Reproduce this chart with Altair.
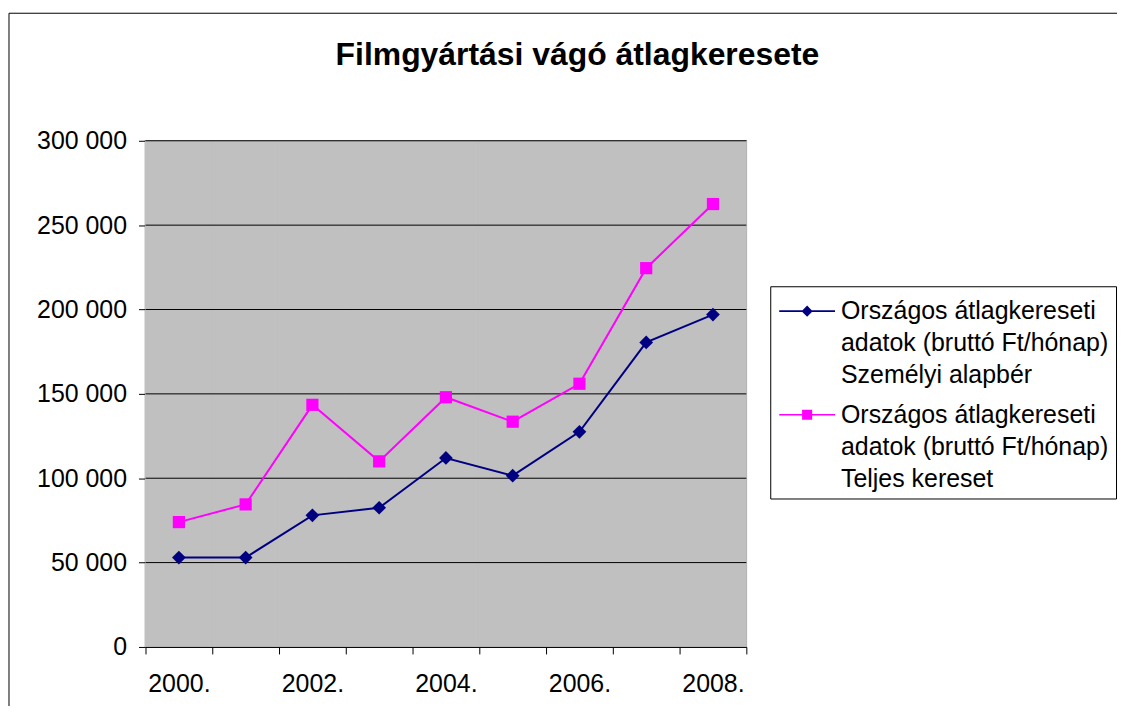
import altair as alt
import pandas as pd

years = ["2000.", "2001.", "2002.", "2003.", "2004.", "2005.", "2006.", "2007.", "2008."]
alapber = [53000, 53000, 78000, 82500, 112000, 101500, 127500, 180500, 197000]
teljes = [74000, 84500, 143500, 110000, 148000, 133500, 156000, 224500, 262500]
series_names = [
    "Országos átlagkereseti\nadatok (bruttó Ft/hónap)\nSzemélyi alapbér",
    "Országos átlagkereseti\nadatok (bruttó Ft/hónap)\nTeljes kereset",
]
colors = ["#000080", "#FF00FF"]
y_ticks = [0, 50000, 100000, 150000, 200000, 250000, 300000]
title_text = "Filmgyártási vágó átlagkeresete"

rows = []
for name, vals in zip(series_names, [alapber, teljes]):
    for yr, v in zip(years, vals):
        rows.append({"year": yr, "value": v, "series": name})
df = pd.DataFrame(rows)

FONT = "Liberation Sans"
FS = 25

# legend symbols (unit = 18px): a thin line with the series marker in the middle
line_part = "M-1.556,-0.045L1.556,-0.045L1.556,0.045L-1.556,0.045Z"
diamond_path = line_part + "M0,-0.31L0.31,0L0,0.31L-0.31,0Z"
square_path = line_part + "M-0.28,-0.28L0.28,-0.28L0.28,0.28L-0.28,0.28Z"

legend = alt.Legend(
    title=None,
    orient="none",
    legendX=627,
    legendY=146,
    strokeColor="black",
    fillColor="white",
    padding=7,
    symbolSize=1296,
    symbolOffset=12,
    symbolStrokeWidth=0,
    labelOffset=16,
    labelFont=FONT,
    labelFontSize=FS,
    labelColor="black",
    labelLimit=0,
    rowPadding=9,
    labelExpr="split(datum.label, '\\n')",
)

x_enc = alt.X(
    "year:N",
    sort=years,
    scale=alt.Scale(type="band", domain=years, paddingInner=0, paddingOuter=0),
    axis=alt.Axis(
        title=None,
        grid=False,
        tickBand="extent",
        tickSize=7,
        tickColor="black",
        domainColor="black",
        labelAngle=0,
        labelFont=FONT,
        labelFontSize=FS,
        labelColor="black",
        labelPadding=18,
        labelExpr="parseInt(datum.label) % 2 == 0 ? datum.label : ''",
    ),
)
y_enc = alt.Y(
    "value:Q",
    scale=alt.Scale(domain=[0, 300000], nice=False),
    axis=alt.Axis(
        title=None,
        values=y_ticks,
        grid=False,
        tickSize=7,
        tickColor="black",
        domainColor="black",
        labelFont=FONT,
        labelFontSize=FS,
        labelColor="black",
        labelPadding=12,
        labelExpr="replace(format(datum.value, ','), ',', ' ')",
    ),
)
color_scale = alt.Scale(domain=series_names, range=colors)

# plot-area background: one gray band per category, full value range
bg = alt.Chart(pd.DataFrame({"year": years})).mark_rect(
    fill="#C0C0C0", stroke="#C0C0C0", strokeWidth=1
).encode(
    x=x_enc,
    y=alt.Y(datum=y_ticks[0], scale=alt.Scale(domain=[0, 300000], nice=False)),
    y2=alt.Y2(datum=y_ticks[-1]),
)
grid = alt.Chart(pd.DataFrame({"tick": y_ticks[1:]})).mark_rule(color="black", strokeWidth=1).encode(
    y=alt.Y("tick:Q", scale=alt.Scale(domain=[0, 300000], nice=False))
)

lines = alt.Chart(df).mark_line(strokeWidth=2).encode(
    x=x_enc, y=y_enc, color=alt.Color("series:N", scale=color_scale, legend=None)
)
points = alt.Chart(df).mark_point(filled=True, opacity=1).encode(
    x=x_enc,
    y=y_enc,
    color=alt.Color("series:N", scale=color_scale, legend=None),
    shape=alt.Shape("series:N", scale=alt.Scale(domain=series_names, range=["diamond", "square"]), legend=None),
    size=alt.Size("series:N", scale=alt.Scale(domain=series_names, range=[190, 150]), legend=None),
)
legend_layer = alt.Chart(df).transform_filter("false").mark_point(filled=True, opacity=1).encode(
    color=alt.Color("series:N", scale=color_scale, legend=legend),
    shape=alt.Shape("series:N", scale=alt.Scale(domain=series_names, range=[diamond_path, square_path]), legend=legend),
)

frame_df = pd.DataFrame({"k": [0]})
left_border = alt.Chart(frame_df).mark_rule(color="black", strokeWidth=1).encode(
    x=alt.value(-137), y=alt.value(-128), y2=alt.value(700)
)
top_border = alt.Chart(frame_df).mark_rule(color="black", strokeWidth=1).encode(
    x=alt.value(-137), x2=alt.value(1200), y=alt.value(-128)
)

chart = alt.layer(bg, grid, top_border, left_border, lines, points, legend_layer).resolve_scale(
    color="independent", shape="independent", size="independent"
).properties(
    width=603,
    height=508,
    title=alt.TitleParams(
        title_text,
        font=FONT,
        fontSize=32,
        fontWeight="bold",
        color="black",
        anchor="middle",
        frame="group",
        dx=132,
        dy=59,
        offset=0,
    ),
    autosize=alt.AutoSizeParams(type="none"),
    padding={"left": 138, "top": 132, "right": 372, "bottom": 58},
).configure(
    style={"guide-label": {"lineHeight": 32}}
).configure_view(
    fill="#C0C0C0", stroke="#808080", strokeWidth=1.5
)

chart.save("out.html", embed_options={"renderer": "svg", "actions": False})
